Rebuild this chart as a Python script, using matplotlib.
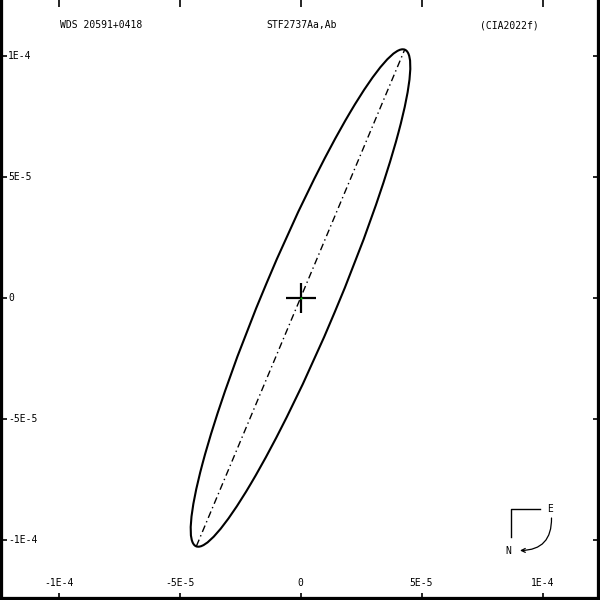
import matplotlib
matplotlib.use('Agg')
import matplotlib.pyplot as plt
from matplotlib.patches import Ellipse

# ── datos (unidades de arcsec) ────────────────────────────────────────────
title_left   = 'WDS 20591+0418'
title_mid    = 'STF2737Aa,Ab'
title_right  = '(CIA2022f)'

tick_vals    = [-1e-4, -5e-5, 0.0, 5e-5, 1e-4]
tick_labels  = ['-1E-4', '-5E-5', '0', '5E-5', '1E-4']

# órbita aparente (elipse proyectada)
orb_center   = (0.0, 0.0)
orb_major    = 2 * 1.113e-4     # eje mayor completo
orb_minor    = 2 * 1.53e-5      # eje menor completo
orb_angle    = 67.2             # grados desde +x

# línea de nodos
nodes_x      = [-4.30e-5, 4.30e-5]
nodes_y      = [-1.025e-4, 1.025e-4]

# primaria
prim_x, prim_y = 0.0, 0.0

# ── escala de píxeles ─────────────────────────────────────────────────────
PX = 242e4   # px por unidad (242 px por 1e-4)
x0_px, y0_px = 300.5, 298.0

fig = plt.figure(figsize=(6, 6), dpi=100)
ax = fig.add_axes([0, 0, 1, 1])
ax.set_xlim(-x0_px / PX, (600 - x0_px) / PX)
ax.set_ylim(-(600 - y0_px) / PX, y0_px / PX)

for s in ['left', 'bottom', 'right']:
    ax.spines[s].set_linewidth(4.5)
ax.spines['top'].set_visible(False)

ax.set_xticks(tick_vals)
ax.set_yticks(tick_vals)
ax.tick_params(direction='in', length=5, width=1.2, top=True, right=True,
               labelbottom=False, labelleft=False)

font = dict(family='DejaVu Sans Mono', fontsize=7, color='black')

# etiquetas de ticks dentro del marco
for v, lab in zip(tick_vals, tick_labels):
    ax.text(v, 1 - 583 / 600, lab, transform=ax.get_xaxis_transform(),
            ha='center', va='center', **font)
    ax.text(8 / 600, v, lab, transform=ax.get_yaxis_transform(),
            ha='left', va='center', **font)

# títulos
ax.text(60 / 600, 1 - 25 / 600, title_left, transform=ax.transAxes,
        ha='left', va='center', **font)
ax.text(302 / 600, 1 - 25 / 600, title_mid, transform=ax.transAxes,
        ha='center', va='center', **font)
ax.text(509 / 600, 1 - 25 / 600, title_right, transform=ax.transAxes,
        ha='center', va='center', **font)

# órbita
ell = Ellipse(orb_center, orb_major, orb_minor, angle=orb_angle,
              fill=False, ec='black', lw=1.5)
ax.add_patch(ell)

# línea de nodos
ax.plot(nodes_x, nodes_y, color='black', lw=1.0, dashes=[5, 2.5, 1, 2.5])

# primaria: cruz
ax.plot([prim_x], [prim_y], marker='+', ms=22, mew=1.6, color='black')
ax.plot([prim_x], [prim_y], marker='o', ms=1.5, color='#00c000', mec='none')

# brújula
def fa(px, py):
    return (px / 600, 1 - py / 600)

ax.plot(*zip(fa(540, 509), fa(510.7, 509), fa(510.7, 537)), color='black',
        lw=1.0, transform=ax.transAxes)
ax.text(*fa(550, 509), 'E', transform=ax.transAxes, ha='center', va='center', **font)
ax.text(*fa(508, 551), 'N', transform=ax.transAxes, ha='center', va='center', **font)
ax.annotate('', xy=fa(520, 550.5), xytext=fa(551.5, 518),
            xycoords='axes fraction', textcoords='axes fraction',
            arrowprops=dict(arrowstyle='->', connectionstyle='arc3,rad=-0.5',
                            lw=0.9, color='black', shrinkA=0, shrinkB=0,
                            mutation_scale=7))

fig.savefig('out.png', dpi=100)
